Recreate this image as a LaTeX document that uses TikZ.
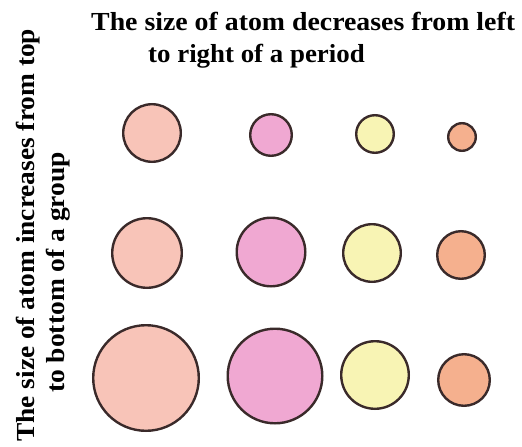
\documentclass[tikz,border=0pt]{standalone}
\usepackage{fontspec}
\setmainfont{Liberation Serif}
\newfontfamily\labelfont{Liberation Serif Bold}
\definecolor{atomA}{HTML}{F8C4B8}
\definecolor{atomB}{HTML}{F0A8D2}
\definecolor{atomC}{HTML}{F8F4B4}
\definecolor{atomD}{HTML}{F5B08E}
\definecolor{rim}{HTML}{3A2A2A}
\begin{document}
\begin{tikzpicture}[x=1pt,y=-1pt,
  atom/.style={circle,draw=rim,line width=2.4pt,inner sep=0pt,minimum size=#1},
  lbl/.style={font=\labelfont\fontsize{26}{30}\selectfont,inner sep=0pt,text=black}]
\useasboundingbox (0,0) rectangle (522,447);
% horizontal caption
\node[lbl,anchor=base west] (h1) at (91,30) {\scalebox{1.07}[1]{The size of atom decreases from left}};
\node[lbl,anchor=base west] (h2) at (148,62) {\scalebox{1.034}[1]{to right of a period}};
% vertical caption
\node[lbl,anchor=base west,rotate=90] (v1) at (34,442) {\scalebox{1.054}[1]{The size of atom increases from top}};
\node[lbl,anchor=base west,rotate=90] (v2) at (64,393) {\scalebox{1.057}[1]{to bottom of a group}};
% row 1
\node[atom=57.6pt,fill=atomA] (c11) at (152,133) {};
\node[atom=41.6pt,fill=atomB] (c12) at (271,135) {};
\node[atom=37.6pt,fill=atomC] (c13) at (375,134) {};
\node[atom=27.6pt,fill=atomD] (c14) at (462,137) {};
% row 2
\node[atom=69.6pt,fill=atomA] (c21) at (147,253) {};
\node[atom=68.6pt,fill=atomB] (c22) at (271,252) {};
\node[atom=57.6pt,fill=atomC] (c23) at (372,253) {};
\node[atom=47.6pt,fill=atomD] (c24) at (461,255) {};
% row 3
\node[atom=105.6pt,fill=atomA] (c31) at (146,378) {};
\node[atom=94.6pt,fill=atomB] (c32) at (275,376) {};
\node[atom=67.6pt,fill=atomC] (c33) at (375,375) {};
\node[atom=51.6pt,fill=atomD] (c34) at (464,380) {};
\end{tikzpicture}
\end{document}
